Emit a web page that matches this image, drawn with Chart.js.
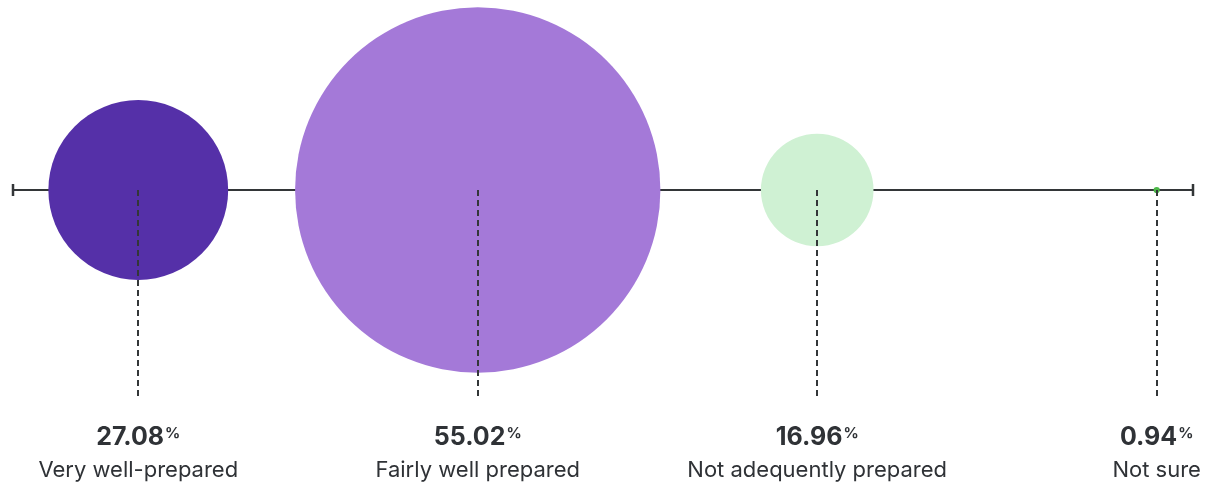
<!DOCTYPE html>
<html>
<head>
<meta charset="utf-8">
<script src="https://cdn.jsdelivr.net/npm/chart.js@4/dist/chart.umd.min.js"></script>
<style>
  html, body { margin: 0; padding: 0; background: #ffffff; }
  #wrap { width: 1209px; height: 484px; }
</style>
</head>
<body>
<div id="wrap"><canvas id="chart" width="1209" height="484"></canvas></div>
<script>
// Survey answers and their shares (%)
const categories = ['Very well-prepared', 'Fairly well prepared', 'Not adequently prepared', 'Not sure'];
const shares = [27.08, 55.02, 16.96, 0.94];
const valueLabels = ['27.08', '55.02', '16.96', '0.94'];
const bubbleColors = ['#5530A8', '#A479D8', '#CFF1D3', '#4CB848'];

// bubble radius in pixels per percentage point
const PX_PER_PERCENT = 3.32;
const INK = '#2F3236';
const LINE = '#333638';

const bubbleData = shares.map((v, i) => ({ x: i, y: 0, r: v * PX_PER_PERCENT }));

const baselinePlugin = {
  id: 'baseline',
  beforeDatasetsDraw(chart) {
    const { ctx, chartArea, scales } = chart;
    const y = scales.y.getPixelForValue(0);
    ctx.save();
    ctx.strokeStyle = LINE;
    ctx.lineWidth = 2;
    ctx.beginPath();
    ctx.moveTo(chartArea.left, y);
    ctx.lineTo(chartArea.right, y);
    ctx.stroke();
    ctx.lineWidth = 2.5;
    [chartArea.left, chartArea.right].forEach(x => {
      ctx.beginPath();
      ctx.moveTo(x, y - 6);
      ctx.lineTo(x, y + 6);
      ctx.stroke();
    });
    ctx.restore();
  },
  afterDatasetsDraw(chart) {
    const { ctx, scales } = chart;
    const y0 = scales.y.getPixelForValue(0);
    ctx.save();
    ctx.strokeStyle = LINE;
    ctx.lineWidth = 2;
    ctx.setLineDash([6, 4]);
    categories.forEach((c, i) => {
      const x = Math.round(scales.x.getPixelForValue(i));
      ctx.beginPath();
      ctx.moveTo(x, y0);
      ctx.lineTo(x, 400);
      ctx.stroke();
    });
    ctx.setLineDash([]);

    ctx.fillStyle = INK;
    const numFont = 'bold 25px Inter, "Noto Sans", sans-serif';
    const pctFont = 'bold 15px Inter, "Noto Sans", sans-serif';
    categories.forEach((c, i) => {
      const x = scales.x.getPixelForValue(i);
      ctx.font = numFont;
      const wNum = ctx.measureText(valueLabels[i]).width;
      ctx.font = pctFont;
      const wPct = ctx.measureText('%').width;
      const gap = 1;
      const start = x - (wNum + wPct + gap) / 2;
      ctx.textAlign = 'left';
      ctx.textBaseline = 'alphabetic';
      ctx.font = numFont;
      ctx.fillText(valueLabels[i], start, 445);
      ctx.font = pctFont;
      ctx.fillText('%', start + wNum + gap, 437.5);

      ctx.font = '22px Inter, "Noto Sans", sans-serif';
      ctx.textAlign = 'center';
      ctx.fillText(c, x, 477);
    });
    ctx.restore();
  }
};

new Chart(document.getElementById('chart'), {
  type: 'bubble',
  data: {
    datasets: [{
      data: bubbleData,
      backgroundColor: bubbleColors,
      borderWidth: 0,
      hoverBorderWidth: 0,
      clip: false
    }]
  },
  options: {
    responsive: false,
    animation: false,
    layout: { autoPadding: false, padding: { left: 13, right: 16, top: 0, bottom: 104 } },
    plugins: { legend: { display: false }, tooltip: { enabled: false } },
    scales: {
      x: { type: 'linear', min: -0.369, max: 3.107, display: false },
      y: { type: 'linear', min: -1, max: 1, display: false }
    }
  },
  plugins: [baselinePlugin]
});
</script>
</body>
</html>
